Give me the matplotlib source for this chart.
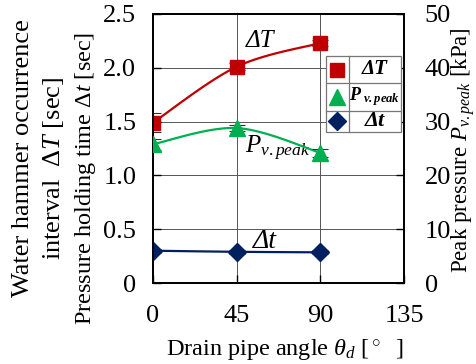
import numpy as np
import matplotlib
matplotlib.use('Agg')
import matplotlib.pyplot as plt
from matplotlib.patches import Rectangle
from matplotlib.lines import Line2D

plt.rcParams['font.family'] = ['Liberation Serif', 'DejaVu Serif']
plt.rcParams['mathtext.fontset'] = 'custom'
plt.rcParams['mathtext.rm'] = 'Liberation Serif'
plt.rcParams['mathtext.it'] = 'Liberation Serif:italic'
plt.rcParams['mathtext.bf'] = 'Liberation Serif:bold:italic'

angles = [0, 45, 90]
dT = [1.49, 2.01, 2.23]          # water hammer interval [sec]
dT_err = [0.09, 0.03, 0.03]
p_peak = [25.8, 28.8, 24.2]      # peak pressure [kPa]
p_err = [1.0, 0.6, 0.8]
dt = [0.30, 0.29, 0.285]         # pressure holding time [sec]
dt_err = [0.02, 0.02, 0.02]

RED = '#c00000'
GREEN = '#00b050'
NAVY = '#002060'


def smooth(x, y, n=40):
    # excel-like smoothed line (catmull-rom), just for the drawn curve
    p = np.column_stack([x, y]).astype(float)
    p = np.vstack([p[0], p, p[-1]])
    out = []
    t = np.linspace(0, 1, n)[:, None]
    for i in range(1, len(p) - 2):
        p0, p1, p2, p3 = p[i - 1], p[i], p[i + 1], p[i + 2]
        c1 = p1 + (p2 - p0) / 6
        c2 = p2 - (p3 - p1) / 6
        seg = ((1 - t) ** 3) * p1 + 3 * ((1 - t) ** 2) * t * c1 \
            + 3 * (1 - t) * t ** 2 * c2 + t ** 3 * p2
        out.append(seg)
    out = np.vstack(out)
    return out[:, 0], out[:, 1]


fig = plt.figure(figsize=(4.77, 3.64), dpi=100)
ax = fig.add_axes([153 / 477, 1 - 283 / 364, 251 / 477, 269 / 364])
ax2 = ax.twinx()

ax.set_xlim(0, 135)
ax.set_ylim(0, 2.5)
ax2.set_ylim(0, 50)

ax.grid(True, color='#555555', linewidth=0.7)
ax.set_axisbelow(True)

ebar = dict(fmt='none', ecolor='#333333', capsize=6, elinewidth=0.8,
            capthick=0.8, zorder=3)

xs, ys = smooth(angles, dT)
ax.plot(xs, ys, color=RED, lw=1.6, zorder=3)
ax.errorbar(angles, dT, yerr=dT_err, **ebar)
ax.plot(angles, dT, 's', color=RED, ms=10, zorder=4)

xs, ys = smooth(angles, dt)
ax.plot(xs, ys, color=NAVY, lw=1.6, zorder=3)
ax.errorbar(angles, dt, yerr=dt_err, **ebar)
ax.plot(angles, dt, 'D', color=NAVY, ms=9, zorder=4)

xs, ys = smooth(angles, p_peak)
ax2.plot(xs, ys, color=GREEN, lw=1.6, zorder=3)
ax2.errorbar(angles, p_peak, yerr=p_err, **ebar)
ax2.plot(angles, p_peak, '^', color=GREEN, ms=11, zorder=4)

ax.set_xticks([0, 45, 90, 135])
ax.set_yticks([0, 0.5, 1.0, 1.5, 2.0, 2.5])
ax.set_yticklabels(['0', '0.5', '1.0', '1.5', '2.0', '2.5'])
ax2.set_yticks([0, 10, 20, 30, 40, 50])
ax.tick_params(axis='y', direction='in', length=6, labelsize=19, pad=12, width=1)
ax.tick_params(axis='x', direction='in', length=6, labelsize=19, pad=16, width=1)
ax2.tick_params(direction='in', length=6, labelsize=19, pad=15, width=1)
for a in (ax, ax2):
    for s in a.spines.values():
        s.set_linewidth(1.3)

ax.text(57.5, 2.25, 'ΔT', fontsize=18, style='italic', ha='center', va='center')
ax.text(49.5, 1.25, r'$P_{v.peak}$', fontsize=18, ha='left', va='center')
ax.text(60, 0.39, 'Δt', fontsize=20, style='italic', ha='center', va='center')

fig.text(23 / 477, 1 - 158 / 364, 'Water hammer occurrence', rotation=90,
         fontsize=19, ha='center', va='center')
fig.text(54 / 477, 1 - 168 / 364, r'interval  $\Delta T$ [sec]',
         rotation=90, fontsize=19, ha='center', va='center')
fig.text(86 / 477, 1 - 178 / 364, r'Pressure holding time $\Delta t$ [sec]',
         rotation=90, fontsize=17.5, ha='center', va='center')
fig.text(463 / 477, 1 - 150 / 364, r'Peak pressure $P_{v.peak}$ [kPa]',
         rotation=90, fontsize=16.5, ha='center', va='center')
fig.text(285 / 477, 1 - 349 / 364, r'Drain pipe angle $\theta_d$ [$^\circ$  ]',
         fontsize=17.5, ha='center', va='center')

# table-style legend
x0, x1, xm = 326, 401, 349
rows = [56, 83, 111, 132]
fig.add_artist(Rectangle((x0 / 477, 1 - rows[-1] / 364), (x1 - x0) / 477,
                         (rows[-1] - rows[0]) / 364,
                         transform=fig.transFigure, facecolor='white',
                         edgecolor='#777777', lw=0.9, zorder=5))
fig.add_artist(Line2D([xm / 477, xm / 477], [1 - rows[0] / 364, 1 - rows[-1] / 364],
                      transform=fig.transFigure, color='#777777', lw=0.9, zorder=6))
for r in rows[1:-1]:
    fig.add_artist(Line2D([x0 / 477, x1 / 477], [1 - r / 364, 1 - r / 364],
                          transform=fig.transFigure, color='#777777', lw=0.9, zorder=6))
legend_items = [('s', RED, 10, 'ΔT', 15),
                ('^', GREEN, 11, r'$\mathbf{P}_{\ \mathbf{v.peak}}$', 13),
                ('D', NAVY, 9, 'Δt', 16)]
for i, (m, c, ms, lab, fs) in enumerate(legend_items):
    cy = (rows[i] + rows[i + 1]) / 2
    fig.add_artist(Line2D([337 / 477], [1 - cy / 364], marker=m, color=c, ms=ms,
                          transform=fig.transFigure, zorder=7))
    fig.text(375 / 477, 1 - cy / 364, lab, fontsize=fs, ha='center', va='center',
             style='italic', weight='bold', zorder=7)

fig.savefig('out.png', dpi=100)
